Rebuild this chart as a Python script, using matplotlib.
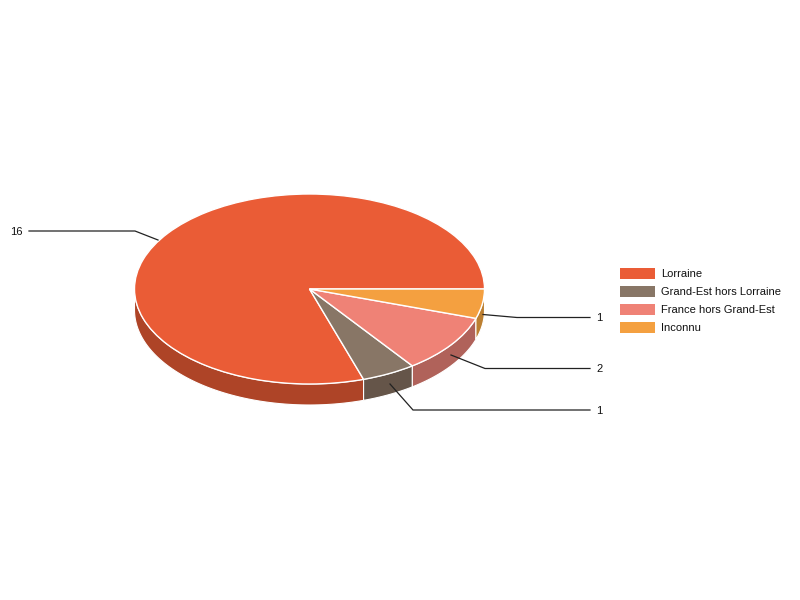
import numpy as np
import matplotlib
matplotlib.use('Agg')
import matplotlib.pyplot as plt
from matplotlib.patches import Polygon, Rectangle

plt.rcParams['font.family'] = ['Liberation Sans', 'DejaVu Sans']

labels = ['Lorraine', 'Grand-Est hors Lorraine', 'France hors Grand-Est', 'Inconnu']
values = [16, 1, 2, 1]
colors = ['#EA5C36', '#887666', '#EF8276', '#F4A040']
side_colors = ['#AE4427', '#655549', '#B0625A', '#BC7F31']

# label text, end of the leader line at the chart, elbow, outer end (pixels)
leaders = [
    ('16', (158, 240), (135, 231), (29, 231)),
    ('1', (390, 384), (413, 410), (590, 410)),
    ('2', (451, 355), (485, 368.5), (590, 368.5)),
    ('1', (483, 314.5), (517, 317.5), (590, 317.5)),
]

W, H = 800, 600
cx, cy, rx, ry = 309.5, 289, 175, 95
depth = 21 / ry

fig = plt.figure(figsize=(8, 6), dpi=100, facecolor='white')

# pie axes: data -1..1 is the ellipse box, so the circle gets squashed
ax = fig.add_axes([(cx - rx) / W, 1 - (cy + ry) / H, 2 * rx / W, 2 * ry / H])
ax.pie(values, colors=colors, startangle=0, counterclock=True, radius=1,
       wedgeprops={'edgecolor': 'white', 'linewidth': 1, 'zorder': 5, 'clip_on': False},
       normalize=True)
ax.set_aspect('auto')
ax.set_xlim(-1, 1)
ax.set_ylim(-1, 1)
ax.axis('off')

# side wall of the pie, only the front half (180..360 deg) shows
edges = np.cumsum([0] + values) / sum(values) * 360
for i in range(len(values)):
    a0 = max(edges[i], 180)
    a1 = edges[i + 1]
    if a1 <= a0:
        continue
    t = np.radians(np.linspace(a0, a1, 80))
    top = np.column_stack([np.cos(t), np.sin(t)])
    bottom = top[::-1] - [0, depth]
    ax.add_patch(Polygon(np.vstack([top, bottom]), closed=True, facecolor=side_colors[i],
                         edgecolor='white', linewidth=0.8, zorder=2, clip_on=False))

# overlay in pixel coordinates for leader lines and legend
over = fig.add_axes([0, 0, 1, 1], facecolor='none')
over.set_xlim(0, W)
over.set_ylim(H, 0)
over.axis('off')

for text, p0, p1, p2 in leaders:
    over.plot([p0[0], p1[0], p2[0]], [p0[1], p1[1], p2[1]], color='#222222', lw=0.9,
              solid_joinstyle='miter')
    if p2[0] < cx:
        over.text(p2[0] - 6.5, p2[1] + 0.8, text, ha='right', va='center', fontsize=8, color='#111111')
    else:
        over.text(p2[0] + 6.5, p2[1] + 0.8, text, ha='left', va='center', fontsize=8, color='#111111')

for i, name in enumerate(labels):
    y = 273 + 18 * i
    over.add_patch(Rectangle((620, y - 5.5), 35, 11, facecolor=colors[i], edgecolor='none'))
    over.text(661, y + 0.8, name, ha='left', va='center', fontsize=8, color='#111111')

fig.savefig('out.png', dpi=100, facecolor='white')
